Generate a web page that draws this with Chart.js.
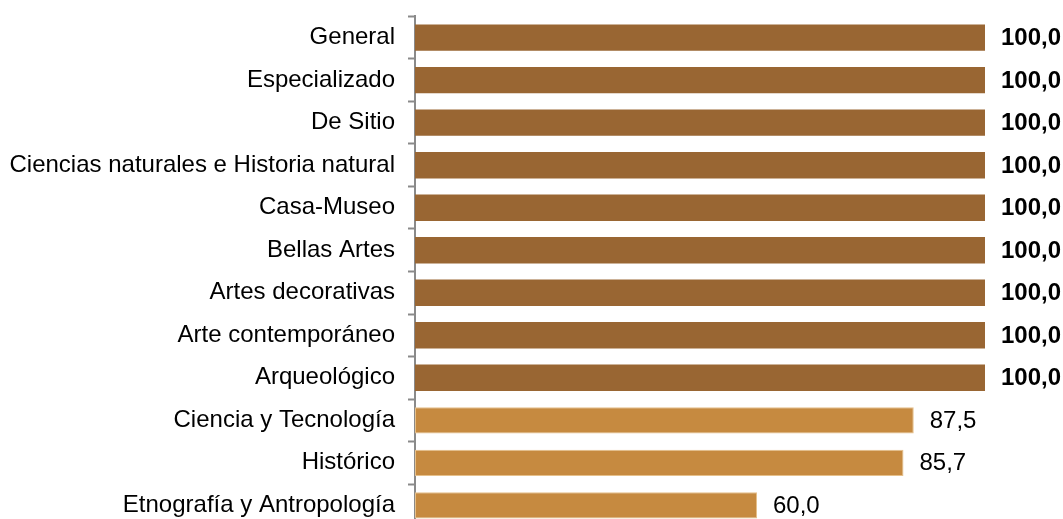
<!DOCTYPE html>
<html>
<head>
<meta charset="utf-8">
<script src="https://cdn.jsdelivr.net/npm/chart.js@4"></script>
<style>
  html, body { margin: 0; padding: 0; background: #ffffff; overflow: hidden; }
  #clip { width: 1063px; height: 519px; overflow: hidden; position: relative; }
  #wrap { width: 1063px; height: 565px; position: absolute; left: 0; top: -11px; }
</style>
</head>
<body>
<div id="clip"><div id="wrap"><canvas id="c"></canvas></div></div>
<script>
const categories = [
  "General",
  "Especializado",
  "De Sitio",
  "Ciencias naturales e Historia natural",
  "Casa-Museo",
  "Bellas Artes",
  "Artes decorativas",
  "Arte contemporáneo",
  "Arqueológico",
  "Ciencia y Tecnología",
  "Histórico",
  "Etnografía y Antropología"
];
const values = [100, 100, 100, 100, 100, 100, 100, 100, 100, 87.5, 85.7, 60.0];
const axisMax = 100;

const DARK = "#996633";
const LIGHT = "#C68A40";
const FONT = "'Liberation Sans', Arial, sans-serif";

const valueLabels = {
  id: "valueLabels",
  afterDatasetsDraw(chart) {
    const ctx = chart.ctx;
    const meta = chart.getDatasetMeta(0);
    ctx.save();
    ctx.textAlign = "left";
    ctx.textBaseline = "middle";
    ctx.fillStyle = "#000000";
    meta.data.forEach((bar, i) => {
      const v = values[i];
      const isFull = v >= 100;
      ctx.font = (isFull ? "bold " : "") + "24px " + FONT;
      ctx.fillText(v.toFixed(1).replace(".", ","), bar.x + 16, bar.y + 1);
    });
    ctx.restore();
  }
};

new Chart(document.getElementById("c"), {
  type: "bar",
  data: {
    labels: categories,
    datasets: [{
      data: values,
      backgroundColor: values.map(v => v >= 100 ? DARK : LIGHT),
      borderColor: values.map(v => v >= 100 ? DARK : "#E6C08A"),
      borderWidth: values.map(v => v >= 100 ? 0 : 1),
      borderSkipped: false,
      barPercentage: 0.62,
      categoryPercentage: 1.0
    }]
  },
  options: {
    indexAxis: "y",
    responsive: true,
    maintainAspectRatio: false,
    animation: false,
    layout: { padding: { top: 5, right: 78, bottom: 6, left: 0 } },
    plugins: {
      legend: { display: false },
      tooltip: { enabled: false }
    },
    scales: {
      x: {
        display: false,
        min: 0,
        max: axisMax
      },
      y: {
        afterFit(scale) { scale.width = 415; },
        grid: {
          display: true,
          drawOnChartArea: false,
          drawTicks: true,
          tickLength: 7,
          tickWidth: 2,
          tickColor: "#8a8a8a",
          offset: true
        },
        border: {
          display: true,
          color: "#8a8a8a",
          width: 2,
          dash: [4, 2]
        },
        ticks: {
          color: "#000000",
          padding: 13,
          font: { family: FONT, size: 24 }
        }
      }
    }
  },
  plugins: [valueLabels]
});
</script>
</body>
</html>
